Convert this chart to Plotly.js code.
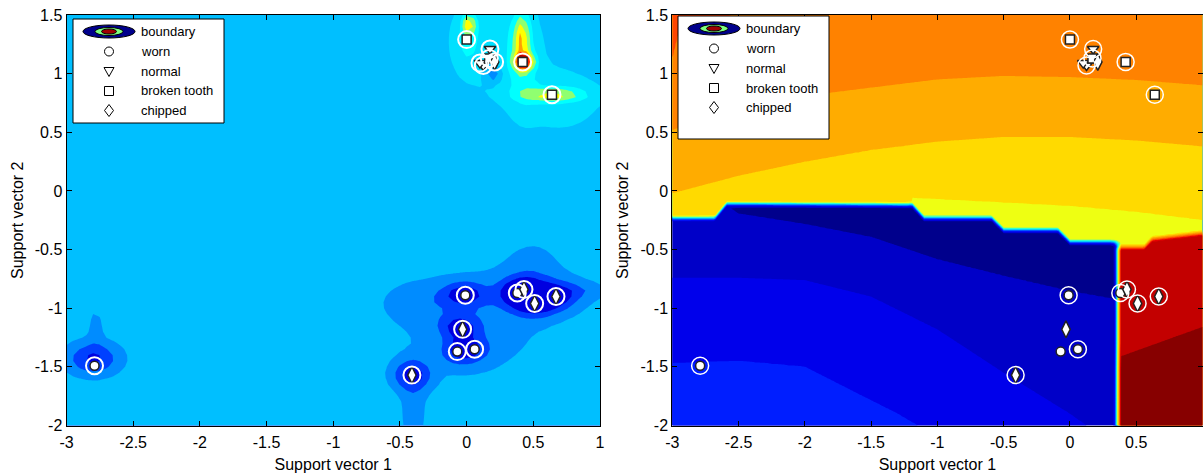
<!DOCTYPE html>
<html><head><meta charset="utf-8">
<script src="https://cdn.plot.ly/plotly-3.0.1.min.js"></script>
<style>html,body{margin:0;padding:0;background:#fff;}#chart{width:1203px;height:473px;}</style>
</head><body><div id="chart"></div>
<script>
// ---------- axis ticks ----------
const X_TICKS = [-3,-2.5,-2,-1.5,-1,-0.5,0,0.5,1];
const X_TICK_TEXT = ['-3','-2.5','-2','-1.5','-1','-0.5','0','0.5','1'];
const Y_TICKS = [-2,-1.5,-1,-0.5,0,0.5,1,1.5];
const Y_TICK_TEXT = ['-2','-1.5','-1','-0.5','0','0.5','1','1.5'];

// ---------- samples ----------
const wornX = [-2.79,-0.01,-0.07,0.06,0.38];
const wornY = [-1.49,-0.89,-1.37,-1.35,-0.87];
const normalX = [0.175,0.125,0.10];
const normalY = [1.21,1.07,1.09];
const brokenX = [0.0,0.42,0.64,0.17];
const brokenY = [1.29,1.10,0.82,1.13];
const chippedX = [-0.41,-0.03,0.43,0.51,0.67,0.21];
const chippedY = [-1.57,-1.18,-0.84,-0.96,-0.90,1.10];
// support vectors (ringed)
const svLeftX = [-2.79,-0.01,-0.07,0.06,0.38,0.175,0.125,0.10,0.0,0.42,0.64,0.17,-0.41,-0.03,0.43,0.51,0.67,0.21];
const svLeftY = [-1.49,-0.89,-1.37,-1.35,-0.87,1.21,1.07,1.09,1.29,1.10,0.82,1.13,-1.57,-1.18,-0.84,-0.96,-0.90,1.10];
const svRightX = [-2.79,-0.01,0.06,0.38,0.175,0.125,0.0,0.42,0.64,0.17,-0.41,0.43,0.51,0.67];
const svRightY = [-1.49,-0.89,-1.35,-0.87,1.21,1.07,1.29,1.10,0.82,1.13,-1.57,-0.84,-0.96,-0.90];

// ---------- left panel field: base level + kernel bumps ----------
const leftBase = 3;
const bumpX  = [-2.80,-2.78,-0.02,-0.05,-0.07,0.06,-0.41,-0.40,0.38,0.45,0.51,0.67,0.55,0.85,0.05,-0.35,0.50, 0.00,0.02,0.43,0.41,0.42,0.64,0.65,0.70,0.22,0.20];
const bumpY  = [-1.43,-1.15,-0.88,-1.16,-1.37,-1.35,-1.57,-1.90,-0.87,-0.85,-0.96,-0.90,-0.88,-0.85,-1.15,-0.95,-0.62, 1.30,1.42,1.10,1.30,1.15,0.82,0.82,0.78,1.20,1.00];
const bumpA  = [-2.7,-0.8,-2.6,-2.4,-1.9,-1.6,-2.8,-0.9,-1.9,-2.1,-2.3,-2.2,-1.1,-0.8,-0.9,-0.8,-0.7, 1.4,3.5,6.8,3.0,1.5,2.3,1.2,0.9,0.9,-2.2];
const bumpSX = [0.14,0.04,0.11,0.10,0.09,0.09,0.10,0.07,0.10,0.10,0.10,0.10,0.28,0.12,0.40,0.20,0.15, 0.07,0.03,0.045,0.04,0.08,0.15,0.20,0.25,0.22,0.04];
const bumpSY = [0.10,0.12,0.07,0.07,0.08,0.08,0.09,0.25,0.08,0.08,0.08,0.08,0.13,0.05,0.33,0.12,0.15, 0.18,0.06,0.045,0.15,0.30,0.03,0.06,0.22,0.28,0.05];
const leftColors = ['#0000e0','#0040ff','#008cff','#00bfff','#00e0ff','#00ffff','#90ff70','#ffff00','#ffa000','#ff2000','#b00000'];

// ---------- right panel field: regions and level curves ----------
const stairX = [-3,-2.68,-2.59,-1.19,-1.10,-0.59,-0.50,-0.09,0.00,0.30,0.40];
const stairY = [-0.234,-0.234,-0.112,-0.122,-0.234,-0.234,-0.336,-0.336,-0.438,-0.438,-0.45];
const splitX = 0.36;
const redTopX = [0.36,0.56,0.62,1.0];
const redTopY = [-0.48,-0.48,-0.41,-0.36];
const lemonX = [-3,-1.25,-1.19,-0.5,0,0.5,1];
const lemonY = [-0.6,-0.6,-0.06,-0.10,-0.13,-0.18,-0.25];
const goldX = [-3,-2.5,-2,-1.5,-1,-0.5,0,0.5,1];
const goldY = [-0.02,0.13,0.25,0.35,0.42,0.46,0.46,0.43,0.38];
const amberX = [-3,-2.5,-2,-1.5,-1,-0.5,0,0.5,1];
const amberY = [0.52,0.70,0.81,0.88,0.95,0.98,0.97,0.945,0.90];
const orangeX = [-3,-2.93,-2.6,-2.3,1];
const orangeY = [1.14,1.47,1.49,1.56,1.6];
const navyX = [-3,-2.62,-2.5,-2,-1.5,-1,-0.5,0,0.5];
const navyY = [0.3,-0.10,-0.19,-0.28,-0.39,-0.58,-0.72,-0.85,-0.95];
const blueMidX = [-3,-2.5,-2,-1.5,-1,-0.5,0,0.5];
const blueMidY = [-0.74,-0.74,-0.76,-0.90,-1.18,-1.55,-1.9,-2.3];
const blueLowX = [-3,-2.5,-2,-1.6,-1.3,-1,0];
const blueLowY = [-1.47,-1.45,-1.50,-1.73,-1.90,-2.1,-2.6];
const darkRedX = [0.36,1.0];
const darkRedY = [-1.42,-1.16];
const rightColors = ['#00008c','#0000c8','#0000eb','#001eff','#006eff','#00beff','#14ffeb','#82ff7d','#eeff12','#ffda00','#ffac00','#ff8200','#ff4600','#e60000','#c30000','#870000'];
const edgeWidth = 0.055; // width of the class-boundary transition

// ---------- helpers ----------
function interp(xs, ys, x) {
  const n = xs.length;
  if (x <= xs[0]) return ys[0];
  if (x >= xs[n-1]) return ys[n-1];
  for (let i = 0; i < n-1; i++) {
    if (x <= xs[i+1]) { const t = (x-xs[i])/(xs[i+1]-xs[i]); return ys[i] + t*(ys[i+1]-ys[i]); }
  }
  return ys[n-1];
}
function levelAt(y, ks, vs) {
  const n = ks.length;
  if (y <= ks[0]) { const d = Math.min(0.45,(ks[0]-y)*4); return vs[0] + (vs[0] > vs[1] ? d : -d); }
  if (y >= ks[n-1]) { const d = Math.min(0.45,(y-ks[n-1])*4); return vs[n-1] + (vs[n-1] > vs[n-2] ? d : -d); }
  for (let i = 0; i < n-1; i++) {
    if (y <= ks[i+1]) { const t = (y-ks[i])/(ks[i+1]-ks[i]); return vs[i] + t*(vs[i+1]-vs[i]); }
  }
  return vs[n-1];
}
function grid(a, b, step) { const r = []; const n = Math.round((b-a)/step); for (let i = 0; i <= n; i++) r.push(+(a+i*step).toFixed(5)); return r; }
function stepScale(cols) { const n = cols.length; return cols.map((c,i) => [i/(n-1), c]); }
const ramp = d => Math.max(0, Math.min(1, d/edgeWidth + 0.5));
const mix = (a, b, t) => a + (b-a)*t;

// left field
const lxs = grid(-3, 1, 0.05), lys = grid(-2, 1.5, 0.05);
const lz = lys.map(y => lxs.map(x => {
  let v = leftBase;
  for (let k = 0; k < bumpX.length; k++) {
    const dx = (x-bumpX[k])/bumpSX[k], dy = (y-bumpY[k])/bumpSY[k];
    v += bumpA[k]*Math.exp(-0.5*(dx*dx+dy*dy));
  }
  return Math.max(-0.4, Math.min(leftColors.length-0.6, v));
}));

// right field
const zBlue = (x,y) => levelAt(y, [interp(blueLowX,blueLowY,x), interp(blueMidX,blueMidY,x), interp(navyX,navyY,x)], [2.5,1.5,0.5]);
const zTop = (x,y) => levelAt(y, [interp(lemonX,lemonY,x), interp(goldX,goldY,x), interp(amberX,amberY,x), interp(orangeX,orangeY,x)], [8.5,9.5,10.5,11.5]);
const zRed = (x,y) => 14.5 + Math.max(-0.45, Math.min(0.45, (interp(darkRedX,darkRedY,x)-y)*4));
const rxs = grid(-3, 1, 0.0125), rys = grid(-2, 1.5, 0.0125);
const rz = rys.map(y => rxs.map(x => {
  const top = zTop(x,y);
  const zl = mix(zBlue(x,y), top, ramp(y - interp(stairX, stairY, x)));
  const zr = mix(zRed(x,y), top, ramp(y - interp(redTopX, redTopY, x)));
  return mix(zl, zr, ramp(x - splitX));
}));

function contourTrace(xs, ys, z, cols, xa, ya) {
  return {type:'contour', x:xs, y:ys, z:z, xaxis:xa, yaxis:ya, autocontour:false,
    contours:{start:0.5, end:cols.length-1.5, size:1, coloring:'fill', showlines:false},
    line:{width:0, smoothing:0}, colorscale:stepScale(cols), showscale:false, hoverinfo:'skip'};
}
function pts(x, y, sym, size, xa, ya) {
  return {type:'scatter', mode:'markers', x:x, y:y, xaxis:xa, yaxis:ya, hoverinfo:'skip', showlegend:false,
    marker:{symbol:sym, size:size, color:'#ffffff', line:{color:'#222222', width:1.5}}};
}
function rings(x, y, w, xa, ya) {
  return {type:'scatter', mode:'markers', x:x, y:y, xaxis:xa, yaxis:ya, hoverinfo:'skip', showlegend:false,
    marker:{symbol:'circle-open', size:17, color:'#ffffff', line:{width:w}}};
}

const traces = [
  contourTrace(lxs, lys, lz, leftColors, 'x', 'y'),
  contourTrace(rxs, rys, rz, rightColors, 'x2', 'y2')
];
[['x','y',2],['x2','y2',1.5]].forEach(([xa,ya,w]) => {
  traces.push(pts(wornX, wornY, 'circle', 9, xa, ya));
  traces.push(pts(normalX, normalY, 'triangle-down', 10, xa, ya));
  traces.push(pts(brokenX, brokenY, 'square', 9, xa, ya));
  traces.push(pts(chippedX, chippedY, 'diamond-tall', 12, xa, ya));
  if (xa === 'x') traces.push(rings(svLeftX, svLeftY, w, xa, ya));
  else traces.push(rings(svRightX, svRightY, w, xa, ya));
});

const FONT = 'Liberation Sans, Arial, sans-serif';
function xAxis(domain, anchor) {
  return {domain:domain, anchor:anchor, range:[-3,1], tickmode:'array', tickvals:X_TICKS, ticktext:X_TICK_TEXT,
    ticks:'inside', ticklen:5, tickwidth:1, tickcolor:'#000', showline:true, linecolor:'#000', linewidth:1,
    mirror:'ticks', showgrid:false, zeroline:false, fixedrange:true, ticklabelstandoff:2,
    tickfont:{family:FONT, size:16, color:'#000'},
    title:{text:'Support vector 1', font:{family:FONT, size:16, color:'#000'}, standoff:9}};
}
function yAxis(anchor) {
  return {domain:[0.1004,0.9683], anchor:anchor, range:[-2,1.5], tickmode:'array', tickvals:Y_TICKS, ticktext:Y_TICK_TEXT,
    ticks:'inside', ticklen:5, tickwidth:1, tickcolor:'#000', showline:true, linecolor:'#000', linewidth:1,
    mirror:'ticks', showgrid:false, zeroline:false, fixedrange:true,
    tickfont:{family:FONT, size:16, color:'#000'},
    title:{text:'Support vector 2', font:{family:FONT, size:16, color:'#000'}, standoff:7}};
}

// ---------- legends (drawn in pixel positions converted to paper) ----------
const LEGEND_LABELS = ['boundary','worn','normal','broken tooth','chipped'];
const W = 1203, H = 473;
const px = v => v/W, py = v => 1 - v/H;
const shapes = [], annotations = [];
function legend(bx, by, bw, bh) {
  shapes.push({type:'rect', xref:'paper', yref:'paper', x0:px(bx), x1:px(bx+bw), y0:py(by+bh), y1:py(by), fillcolor:'#ffffff', line:{color:'#000', width:1}, layer:'above'});
  const rows = [12.5, 32.5, 52.5, 72, 91.5];
  const sx = bx + 36;
  const ell = (w, h, fill, cy) => shapes.push({type:'circle', xref:'paper', yref:'paper', x0:px(sx-w/2), x1:px(sx+w/2), y0:py(cy+h/2), y1:py(cy-h/2), fillcolor:fill, line:{color:'#000', width:1}, layer:'above'});
  const cy0 = by + rows[0];
  ell(52, 13, '#00008c', cy0); ell(28, 8, '#80ff80', cy0); ell(15, 5, '#a00000', cy0);
  const c1 = by + rows[1];
  shapes.push({type:'circle', xref:'paper', yref:'paper', x0:px(sx-4.5), x1:px(sx+4.5), y0:py(c1+4.5), y1:py(c1-4.5), line:{color:'#000', width:1}, layer:'above'});
  const c2 = by + rows[2];
  shapes.push({type:'path', xref:'paper', yref:'paper', path:`M ${px(sx-5)},${py(c2-4)} L ${px(sx+5)},${py(c2-4)} L ${px(sx)},${py(c2+5)} Z`, line:{color:'#000', width:1}, layer:'above'});
  const c3 = by + rows[3];
  shapes.push({type:'rect', xref:'paper', yref:'paper', x0:px(sx-4.5), x1:px(sx+4.5), y0:py(c3+4.5), y1:py(c3-4.5), line:{color:'#000', width:1}, layer:'above'});
  const c4 = by + rows[4];
  shapes.push({type:'path', xref:'paper', yref:'paper', path:`M ${px(sx)},${py(c4-6)} L ${px(sx+4.5)},${py(c4)} L ${px(sx)},${py(c4+6)} L ${px(sx-4.5)},${py(c4)} Z`, line:{color:'#000', width:1}, layer:'above'});
  LEGEND_LABELS.forEach((t, i) => annotations.push({xref:'paper', yref:'paper', x:px(bx+66), y:py(by+rows[i]), xanchor:'left', yanchor:'middle', text:t, showarrow:false, font:{family:FONT, size:13, color:'#000'}}));
}
legend(73, 19, 151, 104);
legend(678, 16, 151, 123);

const layout = {
  width:W, height:H, margin:{l:0, r:0, t:0, b:0}, paper_bgcolor:'#ffffff', plot_bgcolor:'#ffffff', showlegend:false,
  xaxis: xAxis([66.5/W, 600/W], 'y'),
  yaxis: yAxis('x'),
  xaxis2: xAxis([672.3/W, 1202.5/W], 'y2'),
  yaxis2: yAxis('x2'),
  shapes: shapes, annotations: annotations
};
Plotly.newPlot('chart', traces, layout, {displayModeBar:false, staticPlot:true});
</script></body></html>
